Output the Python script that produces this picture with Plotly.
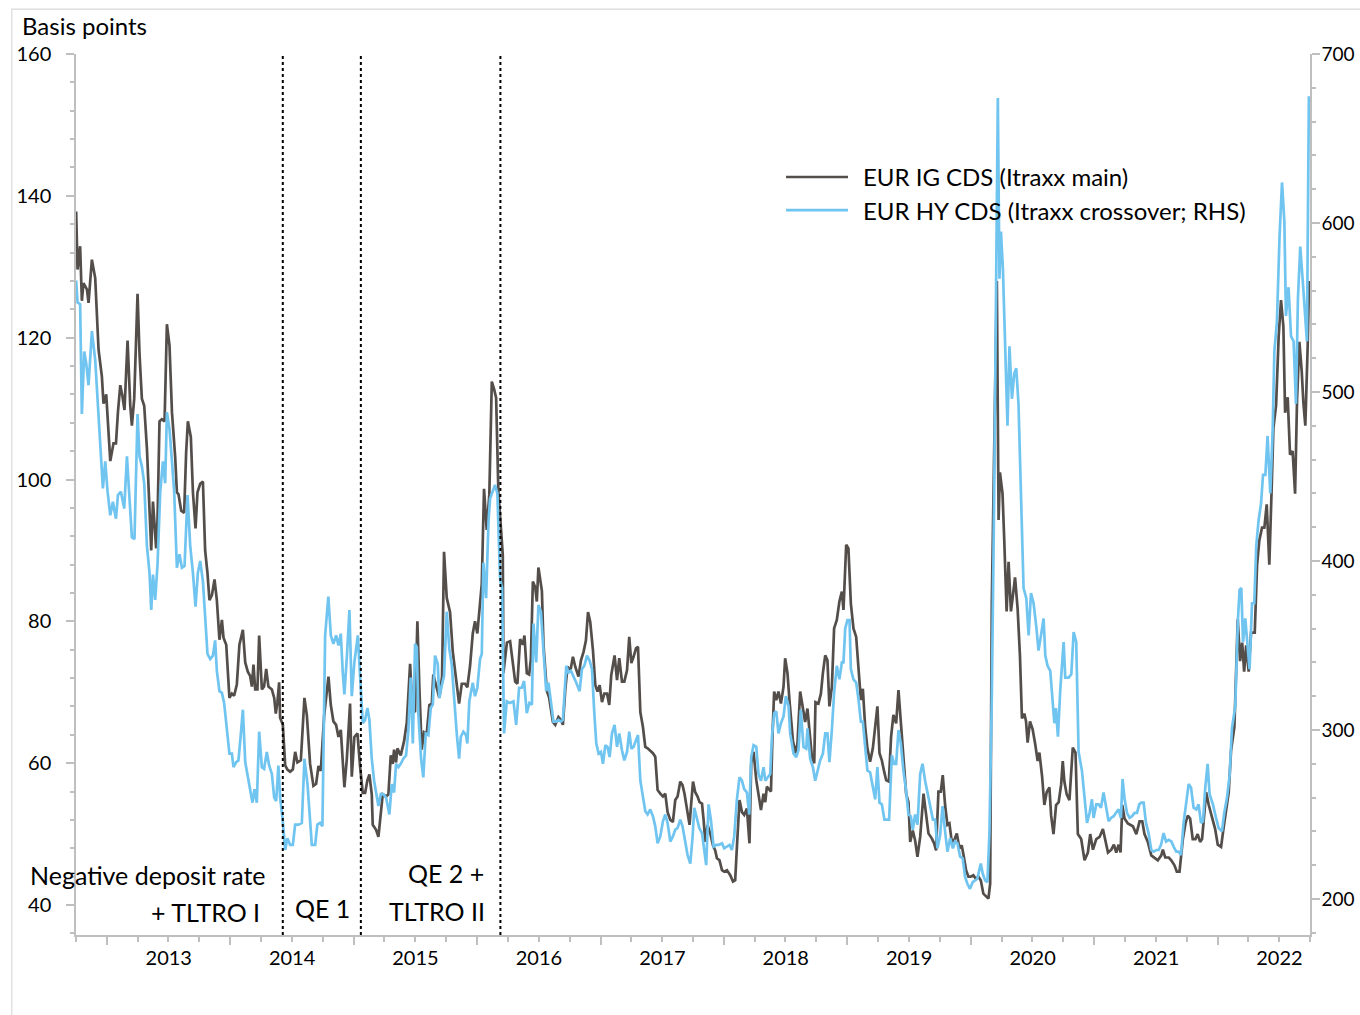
import pandas as pd
import plotly.graph_objects as go

# ---------------- data ----------------
# time given as decimal years
ig_time = [2012.750, 2012.761, 2012.782, 2012.796, 2012.809, 2012.837, 2012.850, 2012.877, 2012.904, 2012.931,
           2012.958, 2012.971, 2012.993, 2013.026, 2013.052, 2013.072, 2013.088, 2013.107, 2013.125, 2013.141,
           2013.166, 2013.188, 2013.201, 2013.220, 2013.247, 2013.263, 2013.282, 2013.301, 2013.323, 2013.344,
           2013.358, 2013.372, 2013.385, 2013.398, 2013.409, 2013.425, 2013.444, 2013.466, 2013.485, 2013.506,
           2013.526, 2013.552, 2013.566, 2013.579, 2013.601, 2013.625, 2013.641, 2013.655, 2013.679, 2013.696,
           2013.717, 2013.733, 2013.755, 2013.777, 2013.795, 2013.814, 2013.830, 2013.850, 2013.871, 2013.890,
           2013.911, 2013.931, 2013.944, 2013.966, 2013.992, 2014.012, 2014.030, 2014.052, 2014.073, 2014.101,
           2014.120, 2014.141, 2014.160, 2014.174, 2014.187, 2014.201, 2014.219, 2014.233, 2014.255, 2014.273,
           2014.290, 2014.308, 2014.336, 2014.355, 2014.368, 2014.381, 2014.395, 2014.403, 2014.425, 2014.444,
           2014.462, 2014.484, 2014.506, 2014.525, 2014.543, 2014.571, 2014.600, 2014.620, 2014.646, 2014.673,
           2014.695, 2014.714, 2014.733, 2014.760, 2014.795, 2014.814, 2014.835, 2014.857, 2014.876, 2014.895,
           2014.924, 2014.944, 2014.970, 2014.984, 2015.005, 2015.030, 2015.051, 2015.073, 2015.092, 2015.111,
           2015.127, 2015.146, 2015.154, 2015.181, 2015.200, 2015.219, 2015.235, 2015.262, 2015.281, 2015.300,
           2015.316, 2015.327, 2015.343, 2015.354, 2015.381, 2015.408, 2015.430, 2015.457, 2015.475, 2015.497,
           2015.516, 2015.532, 2015.551, 2015.570, 2015.592, 2015.613, 2015.633, 2015.645, 2015.673, 2015.694,
           2015.716, 2015.732, 2015.754, 2015.781, 2015.803, 2015.821, 2015.835, 2015.854, 2015.876, 2015.902,
           2015.921, 2015.943, 2015.965, 2015.983, 2016.002, 2016.024, 2016.038, 2016.056, 2016.078, 2016.099,
           2016.119, 2016.137, 2016.154, 2016.172, 2016.192, 2016.208, 2016.213, 2016.241, 2016.267, 2016.286,
           2016.308, 2016.326, 2016.348, 2016.370, 2016.383, 2016.402, 2016.421, 2016.435, 2016.451, 2016.470,
           2016.483, 2016.496, 2016.524, 2016.537, 2016.564, 2016.583, 2016.613, 2016.632, 2016.658, 2016.678,
           2016.694, 2016.713, 2016.731, 2016.753, 2016.775, 2016.794, 2016.820, 2016.840, 2016.861, 2016.880,
           2016.897, 2016.915, 2016.937, 2016.956, 2016.974, 2016.991, 2017.010, 2017.029, 2017.051, 2017.069,
           2017.085, 2017.112, 2017.132, 2017.150, 2017.172, 2017.191, 2017.213, 2017.231, 2017.248, 2017.266,
           2017.286, 2017.302, 2017.321, 2017.342, 2017.361, 2017.380, 2017.401, 2017.423, 2017.442, 2017.461,
           2017.483, 2017.504, 2017.523, 2017.542, 2017.564, 2017.585, 2017.604, 2017.623, 2017.645, 2017.663,
           2017.679, 2017.699, 2017.720, 2017.731, 2017.748, 2017.766, 2017.785, 2017.801, 2017.821, 2017.834,
           2017.847, 2017.866, 2017.888, 2017.910, 2017.928, 2017.942, 2017.963, 2017.983, 2018.001, 2018.023,
           2018.050, 2018.072, 2018.090, 2018.104, 2018.125, 2018.145, 2018.163, 2018.185, 2018.206, 2018.220,
           2018.239, 2018.261, 2018.279, 2018.299, 2018.320, 2018.334, 2018.347, 2018.366, 2018.380, 2018.393,
           2018.406, 2018.423, 2018.441, 2018.461, 2018.482, 2018.495, 2018.514, 2018.530, 2018.558, 2018.577,
           2018.595, 2018.617, 2018.639, 2018.657, 2018.676, 2018.692, 2018.712, 2018.731, 2018.741, 2018.765,
           2018.785, 2018.801, 2018.820, 2018.838, 2018.854, 2018.874, 2018.892, 2018.914, 2018.935, 2018.955,
           2018.968, 2018.990, 2019.008, 2019.028, 2019.049, 2019.071, 2019.090, 2019.109, 2019.125, 2019.144,
           2019.162, 2019.184, 2019.206, 2019.225, 2019.243, 2019.260, 2019.279, 2019.298, 2019.314, 2019.336,
           2019.354, 2019.373, 2019.395, 2019.414, 2019.433, 2019.454, 2019.476, 2019.495, 2019.509, 2019.530,
           2019.549, 2019.568, 2019.590, 2019.617, 2019.638, 2019.657, 2019.684, 2019.703, 2019.719, 2019.738,
           2019.757, 2019.773, 2019.792, 2019.811, 2019.827, 2019.846, 2019.865, 2019.887, 2019.908, 2019.927,
           2019.946, 2019.962, 2019.981, 2020.000, 2020.021, 2020.041, 2020.062, 2020.081, 2020.102, 2020.124,
           2020.143, 2020.157, 2020.170, 2020.211, 2020.225, 2020.236, 2020.257, 2020.271, 2020.290, 2020.306,
           2020.325, 2020.338, 2020.358, 2020.379, 2020.398, 2020.414, 2020.433, 2020.447, 2020.460, 2020.479,
           2020.500, 2020.522, 2020.541, 2020.555, 2020.577, 2020.595, 2020.614, 2020.636, 2020.650, 2020.669,
           2020.690, 2020.711, 2020.731, 2020.744, 2020.757, 2020.776, 2020.798, 2020.825, 2020.847, 2020.866,
           2020.893, 2020.920, 2020.947, 2020.966, 2020.988, 2021.015, 2021.042, 2021.069, 2021.091, 2021.110,
           2021.137, 2021.158, 2021.177, 2021.196, 2021.212, 2021.226, 2021.244, 2021.271, 2021.312, 2021.340,
           2021.366, 2021.388, 2021.406, 2021.433, 2021.461, 2021.487, 2021.514, 2021.542, 2021.555, 2021.574,
           2021.603, 2021.623, 2021.649, 2021.668, 2021.690, 2021.717, 2021.738, 2021.757, 2021.776, 2021.797,
           2021.819, 2021.837, 2021.857, 2021.873, 2021.906, 2021.927, 2021.954, 2021.979, 2022.000, 2022.027,
           2022.046, 2022.068, 2022.089, 2022.108, 2022.135, 2022.162, 2022.181, 2022.198, 2022.214, 2022.230,
           2022.251, 2022.270, 2022.300, 2022.319, 2022.337, 2022.359, 2022.378, 2022.397, 2022.418, 2022.437,
           2022.451, 2022.473, 2022.494, 2022.513, 2022.532, 2022.546, 2022.567, 2022.586, 2022.607, 2022.627,
           2022.643, 2022.662, 2022.681, 2022.694, 2022.710, 2022.729, 2022.740]

ig_bp = [137.8, 129.6, 132.9, 125.2, 127.7, 126.8, 124.9, 131.0, 128.4, 118.3,
         114.5, 110.7, 112.0, 102.6, 105.1, 105.1, 109.5, 113.3, 111.7, 109.8,
         119.6, 110.4, 107.6, 111.4, 126.2, 117.7, 111.4, 110.4, 104.4, 96.9,
         90.0, 96.9, 93.1, 90.3, 94.4, 108.2, 108.5, 108.2, 121.9, 118.9,
         109.5, 103.2, 98.2, 97.9, 95.6, 95.3, 103.8, 108.2, 106.0, 98.2,
         93.1, 98.2, 99.4, 99.7, 90.0, 86.8, 83.0, 83.7, 85.9, 83.0,
         77.4, 80.2, 77.7, 76.7, 69.2, 69.8, 69.5, 71.1, 76.7, 78.8,
         74.2, 72.9, 72.3, 70.8, 73.9, 70.4, 70.4, 78.0, 70.4, 70.8,
         73.3, 70.8, 70.4, 69.2, 67.0, 68.6, 71.4, 66.4, 65.4, 59.7,
         59.1, 58.8, 59.1, 61.6, 60.1, 60.4, 69.2, 66.7, 59.9, 56.8,
         57.1, 59.6, 58.9, 66.7, 72.2, 68.2, 65.9, 65.4, 63.7, 64.7,
         56.6, 60.6, 68.4, 58.1, 63.7, 64.2, 59.6, 55.8, 55.8, 57.6,
         58.4, 55.6, 51.3, 50.6, 49.6, 53.1, 55.6, 55.3, 55.6, 61.1,
         59.9, 61.9, 60.1, 62.1, 61.1, 63.1, 65.7, 74.0, 67.7, 67.2,
         80.0, 70.7, 61.9, 64.4, 64.2, 68.2, 68.4, 72.5, 70.7, 69.2,
         72.2, 89.8, 83.3, 81.3, 75.7, 73.2, 70.7, 68.4, 71.2, 71.2,
         70.7, 73.7, 78.3, 80.0, 78.3, 82.0, 85.3, 98.7, 92.9, 97.9,
         113.8, 112.8, 111.5, 98.4, 92.9, 89.3, 72.7, 77.0, 77.2, 74.5,
         71.5, 71.2, 77.5, 76.7, 78.0, 72.7, 72.5, 74.7, 85.6, 84.8,
         82.8, 87.6, 84.3, 76.7, 70.2, 69.2, 65.8, 65.4, 66.5, 66.1,
         65.4, 70.3, 73.6, 72.9, 75.0, 73.6, 72.2, 74.5, 75.7, 77.3,
         81.3, 79.9, 75.9, 71.0, 70.1, 71.0, 68.6, 69.8, 69.8, 68.2,
         72.4, 75.2, 71.7, 74.8, 71.5, 71.5, 73.1, 77.8, 74.1, 75.0,
         76.2, 76.4, 67.2, 65.1, 62.3, 62.1, 61.8, 61.4, 60.9, 56.2,
         55.7, 55.3, 55.7, 53.1, 52.0, 51.7, 54.8, 55.3, 57.4, 56.9,
         55.7, 53.4, 51.3, 53.8, 57.4, 55.9, 55.3, 54.5, 54.3, 52.0,
         48.9, 51.3, 50.1, 48.4, 47.7, 46.6, 46.3, 44.9, 44.7, 44.9,
         44.2, 43.3, 43.5, 48.2, 54.8, 53.1, 52.7, 53.6, 48.7, 60.0,
         61.6, 57.6, 55.3, 53.4, 55.7, 54.5, 56.7, 56.2, 56.0, 64.2,
         70.1, 68.9, 70.1, 68.4, 70.8, 74.8, 72.7, 68.9, 63.2, 61.4,
         62.8, 70.1, 68.0, 65.8, 67.7, 64.2, 60.9, 60.0, 68.6, 68.4,
         69.8, 72.7, 75.2, 74.5, 68.0, 70.8, 79.0, 80.2, 82.8, 84.2,
         81.6, 90.8, 90.3, 82.5, 79.0, 77.8, 72.7, 68.9, 70.5, 65.1,
         62.1, 60.2, 62.1, 65.1, 68.0, 61.4, 60.4, 58.8, 57.6, 57.4,
         63.7, 66.8, 65.6, 70.3, 65.6, 60.0, 55.7, 54.5, 48.9, 50.5,
         49.1, 46.8, 49.6, 55.7, 52.7, 50.1, 49.4, 48.7, 47.7, 56.0,
         56.0, 58.3, 54.1, 51.3, 51.5, 48.9, 49.1, 50.1, 48.0, 48.4,
         46.6, 44.9, 44.0, 44.0, 44.2, 43.7, 44.0, 43.5, 41.6, 41.2,
         40.9, 43.0, 82.5, 128.0, 94.3, 101.0, 98.0, 91.4, 81.4, 88.4,
         81.4, 83.2, 86.2, 81.8, 75.1, 66.3, 67.0, 65.9, 62.9, 65.9,
         64.8, 62.6, 60.3, 61.5, 58.1, 54.1, 55.9, 56.6, 52.6, 50.0,
         54.1, 54.5, 57.0, 60.3, 57.4, 55.6, 54.8, 62.2, 61.5, 50.0,
         49.3, 46.3, 47.4, 50.0, 47.8, 49.3, 49.6, 50.7, 48.9, 47.4,
         47.8, 48.5, 47.4, 48.5, 47.4, 54.1, 52.2, 51.5, 51.1, 50.0,
         51.8, 51.8, 50.0, 48.9, 47.0, 46.7, 46.3, 47.0, 47.8, 46.7,
         46.7, 46.3, 45.6, 44.7, 44.7, 49.3, 51.5, 52.6, 52.2, 49.3,
         49.3, 50.0, 48.9, 49.3, 55.9, 54.1, 52.2, 50.7, 48.5, 48.2,
         50.7, 53.3, 55.9, 61.8, 65.1, 80.3, 74.4, 77.0, 72.9, 76.6,
         72.9, 78.4, 78.4, 88.0, 91.4, 93.2, 93.2, 96.5, 88.0, 98.7,
         107.2, 110.5, 120.2, 125.3, 121.6, 109.4, 111.6, 103.5, 104.0, 98.0,
         111.3, 119.4, 115.2, 110.9, 107.6, 118.7, 128.0]

hy_time = [2012.750, 2012.761, 2012.782, 2012.796, 2012.815, 2012.831, 2012.850, 2012.877, 2012.904, 2012.931,
           2012.950, 2012.966, 2012.985, 2013.004, 2013.026, 2013.047, 2013.072, 2013.088, 2013.112, 2013.139,
           2013.161, 2013.182, 2013.201, 2013.222, 2013.247, 2013.263, 2013.282, 2013.301, 2013.323, 2013.344,
           2013.358, 2013.372, 2013.390, 2013.409, 2013.431, 2013.453, 2013.471, 2013.485, 2013.506, 2013.526,
           2013.544, 2013.566, 2013.587, 2013.607, 2013.628, 2013.652, 2013.674, 2013.696, 2013.717, 2013.736,
           2013.755, 2013.777, 2013.795, 2013.814, 2013.836, 2013.858, 2013.876, 2013.890, 2013.911, 2013.931,
           2013.949, 2013.971, 2013.992, 2014.012, 2014.025, 2014.047, 2014.065, 2014.085, 2014.101, 2014.120,
           2014.138, 2014.160, 2014.179, 2014.195, 2014.214, 2014.233, 2014.255, 2014.273, 2014.295, 2014.314,
           2014.336, 2014.355, 2014.371, 2014.389, 2014.403, 2014.422, 2014.444, 2014.462, 2014.484, 2014.506,
           2014.525, 2014.551, 2014.579, 2014.600, 2014.625, 2014.660, 2014.687, 2014.705, 2014.727, 2014.746,
           2014.768, 2014.794, 2014.814, 2014.835, 2014.857, 2014.876, 2014.895, 2014.911, 2014.924, 2014.944,
           2014.965, 2014.984, 2015.005, 2015.033, 2015.051, 2015.073, 2015.092, 2015.111, 2015.127, 2015.146,
           2015.165, 2015.181, 2015.200, 2015.219, 2015.240, 2015.262, 2015.289, 2015.308, 2015.327, 2015.343,
           2015.362, 2015.381, 2015.402, 2015.424, 2015.443, 2015.462, 2015.479, 2015.497, 2015.511, 2015.524,
           2015.546, 2015.564, 2015.584, 2015.605, 2015.624, 2015.641, 2015.659, 2015.681, 2015.694, 2015.713,
           2015.732, 2015.754, 2015.775, 2015.794, 2015.813, 2015.835, 2015.854, 2015.868, 2015.889, 2015.910,
           2015.921, 2015.937, 2015.965, 2015.983, 2016.002, 2016.024, 2016.038, 2016.051, 2016.073, 2016.092,
           2016.105, 2016.127, 2016.145, 2016.164, 2016.186, 2016.202, 2016.218, 2016.240, 2016.267, 2016.294,
           2016.316, 2016.340, 2016.362, 2016.380, 2016.402, 2016.423, 2016.443, 2016.456, 2016.478, 2016.496,
           2016.516, 2016.537, 2016.559, 2016.577, 2016.618, 2016.640, 2016.658, 2016.678, 2016.694, 2016.721,
           2016.739, 2016.759, 2016.780, 2016.802, 2016.829, 2016.848, 2016.867, 2016.889, 2016.910, 2016.929,
           2016.948, 2016.964, 2016.983, 2017.002, 2017.018, 2017.037, 2017.055, 2017.072, 2017.091, 2017.112,
           2017.132, 2017.150, 2017.172, 2017.191, 2017.213, 2017.231, 2017.248, 2017.266, 2017.286, 2017.302,
           2017.321, 2017.342, 2017.361, 2017.380, 2017.401, 2017.423, 2017.442, 2017.461, 2017.483, 2017.504,
           2017.523, 2017.542, 2017.564, 2017.585, 2017.604, 2017.623, 2017.645, 2017.663, 2017.685, 2017.704,
           2017.726, 2017.745, 2017.758, 2017.780, 2017.799, 2017.821, 2017.839, 2017.855, 2017.874, 2017.893,
           2017.915, 2017.936, 2017.955, 2017.983, 2018.001, 2018.023, 2018.044, 2018.063, 2018.082, 2018.104,
           2018.125, 2018.145, 2018.163, 2018.185, 2018.204, 2018.220, 2018.239, 2018.261, 2018.279, 2018.299,
           2018.320, 2018.334, 2018.352, 2018.374, 2018.388, 2018.406, 2018.423, 2018.441, 2018.461, 2018.482,
           2018.501, 2018.523, 2018.536, 2018.563, 2018.585, 2018.603, 2018.622, 2018.644, 2018.666, 2018.676,
           2018.698, 2018.720, 2018.739, 2018.757, 2018.779, 2018.801, 2018.820, 2018.838, 2018.854, 2018.874,
           2018.892, 2018.914, 2018.935, 2018.955, 2018.968, 2018.982, 2019.000, 2019.017, 2019.028, 2019.049,
           2019.071, 2019.090, 2019.109, 2019.125, 2019.144, 2019.162, 2019.184, 2019.206, 2019.225, 2019.243,
           2019.260, 2019.279, 2019.300, 2019.319, 2019.338, 2019.360, 2019.379, 2019.395, 2019.414, 2019.433,
           2019.454, 2019.476, 2019.495, 2019.514, 2019.530, 2019.549, 2019.568, 2019.590, 2019.609, 2019.630,
           2019.649, 2019.671, 2019.693, 2019.711, 2019.730, 2019.752, 2019.771, 2019.792, 2019.811, 2019.833,
           2019.855, 2019.873, 2019.892, 2019.914, 2019.935, 2019.954, 2019.973, 2019.994, 2020.016, 2020.035,
           2020.053, 2020.081, 2020.097, 2020.116, 2020.135, 2020.151, 2020.170, 2020.189, 2020.219, 2020.232,
           2020.244, 2020.260, 2020.279, 2020.297, 2020.313, 2020.333, 2020.352, 2020.368, 2020.386, 2020.406,
           2020.427, 2020.449, 2020.468, 2020.487, 2020.508, 2020.530, 2020.548, 2020.568, 2020.589, 2020.603,
           2020.621, 2020.643, 2020.657, 2020.676, 2020.689, 2020.705, 2020.724, 2020.751, 2020.764, 2020.791,
           2020.813, 2020.832, 2020.853, 2020.872, 2020.899, 2020.918, 2020.940, 2020.961, 2020.980, 2020.993,
           2021.015, 2021.034, 2021.053, 2021.074, 2021.096, 2021.115, 2021.134, 2021.156, 2021.175, 2021.196,
           2021.215, 2021.228, 2021.245, 2021.264, 2021.285, 2021.305, 2021.326, 2021.345, 2021.364, 2021.380,
           2021.399, 2021.418, 2021.439, 2021.461, 2021.480, 2021.502, 2021.521, 2021.540, 2021.561, 2021.581,
           2021.602, 2021.624, 2021.642, 2021.664, 2021.683, 2021.702, 2021.723, 2021.745, 2021.764, 2021.783,
           2021.804, 2021.826, 2021.845, 2021.864, 2021.880, 2021.899, 2021.918, 2021.934, 2021.961, 2021.986,
           2022.007, 2022.034, 2022.053, 2022.075, 2022.096, 2022.115, 2022.142, 2022.164, 2022.177, 2022.191,
           2022.205, 2022.223, 2022.242, 2022.258, 2022.278, 2022.296, 2022.312, 2022.331, 2022.351, 2022.367,
           2022.386, 2022.404, 2022.426, 2022.445, 2022.459, 2022.480, 2022.501, 2022.521, 2022.540, 2022.553,
           2022.574, 2022.594, 2022.615, 2022.634, 2022.650, 2022.669, 2022.688, 2022.704, 2022.723, 2022.739]

hy_bp = [566, 553, 552, 487, 524, 517, 504, 536, 519, 487,
         467, 443, 459, 441, 427, 435, 425, 439, 441, 431,
         462, 433, 414, 413, 487, 462, 456, 446, 409, 393,
         371, 392, 377, 398, 441, 459, 446, 488, 478, 459,
         441, 396, 404, 396, 397, 439, 409, 393, 373, 393,
         400, 388, 369, 345, 342, 344, 353, 335, 323, 322,
         316, 301, 286, 286, 278, 281, 282, 298, 312, 281,
         274, 265, 257, 265, 257, 299, 278, 277, 287, 279,
         274, 260, 258, 279, 260, 248, 229, 236, 232, 232,
         244, 244, 245, 283, 268, 232, 232, 244, 245, 243,
         356, 379, 356, 351, 356, 350, 357, 334, 321, 343,
         371, 320, 340, 356, 329, 304, 306, 313, 306, 283,
         270, 262, 255, 262, 262, 260, 250, 268, 263, 280,
         278, 280, 283, 285, 300, 331, 292, 351, 349, 309,
         283, 272, 298, 297, 313, 315, 344, 339, 319, 326,
         332, 370, 348, 339, 317, 298, 283, 296, 299, 297,
         292, 317, 328, 320, 325, 342, 345, 399, 378, 423,
         437, 442, 445, 440, 389, 384, 298, 317, 316, 317,
         303, 325, 325, 329, 310, 316, 315, 363, 340, 374,
         370, 347, 323, 328, 305, 305, 306, 305, 306, 338,
         334, 335, 332, 328, 323, 336, 338, 344, 341, 336,
         310, 292, 286, 287, 280, 291, 290, 284, 298, 303,
         290, 298, 288, 282, 287, 299, 289, 290, 294, 297,
         270, 259, 252, 250, 253, 249, 243, 233, 237, 246,
         250, 245, 234, 237, 241, 242, 247, 243, 235, 226,
         221, 237, 254, 247, 242, 239, 229, 220, 256, 247,
         231, 232, 232, 233, 230, 231, 232, 229, 237, 259,
         272, 270, 265, 263, 250, 284, 291, 290, 274, 270,
         278, 270, 272, 274, 296, 310, 311, 298, 304, 308,
         320, 314, 298, 286, 284, 288, 312, 290, 289, 301,
         283, 278, 270, 275, 282, 286, 298, 298, 281, 300,
         322, 338, 330, 340, 340, 360, 365, 365, 336, 330,
         328, 318, 305, 305, 291, 276, 275, 266, 259, 278,
         257, 256, 247, 247, 247, 285, 280, 280, 300, 292,
         276, 264, 250, 249, 241, 250, 244, 274, 280, 270,
         263, 255, 247, 247, 230, 238, 255, 240, 228, 236,
         230, 234, 233, 225, 224, 213, 209, 206, 210, 211,
         212, 221, 215, 211, 210, 239, 318, 436, 674, 567,
         595, 573, 530, 480, 527, 496, 511, 514, 493, 437,
         384, 378, 356, 381, 375, 361, 347, 356, 366, 344,
         338, 335, 322, 304, 313, 296, 324, 352, 331, 331,
         333, 358, 352, 287, 276, 263, 245, 251, 259, 248,
         256, 256, 254, 263, 253, 246, 248, 249, 251, 253,
         248, 271, 259, 251, 248, 249, 251, 251, 256, 257,
         257, 245, 239, 229, 228, 229, 229, 232, 239, 234,
         235, 234, 231, 228, 228, 226, 245, 257, 268, 266,
         254, 253, 256, 245, 246, 266, 280, 262, 256, 248,
         242, 240, 251, 260, 273, 301, 314, 366, 383, 384,
         352, 366, 350, 336, 375, 375, 409, 424, 434, 451,
         451, 474, 440, 477, 524, 542, 592, 624, 601, 545,
         562, 533, 530, 493, 555, 586, 567, 548, 530, 675]

left_ticks = [40, 60, 80, 100, 120, 140, 160]
right_ticks = [200, 300, 400, 500, 600, 700]
event_dates = ["2014-06-05", "2015-01-22", "2016-03-10"]

ig_name = "EUR IG CDS (Itraxx main)"
hy_name = "EUR HY CDS (Itraxx crossover; RHS)"


def to_date(t):
    y = int(t)
    start = pd.Timestamp(year=y, month=1, day=1)
    ndays = (pd.Timestamp(year=y + 1, month=1, day=1) - start).days
    return start + pd.Timedelta(days=(t - y) * ndays)


ig_dates = [to_date(t) for t in ig_time]
hy_dates = [to_date(t) for t in hy_time]

IG_COLOR = "#544E4B"
HY_COLOR = "#70C4F0"
AXIS_COLOR = "#BFBFBF"
FONT = "Lato"
TEXT_SIZE = 25
LEGEND_SIZE = 24

fig = go.Figure()
fig.add_trace(go.Scatter(x=ig_dates, y=ig_bp, mode="lines", name=ig_name,
                         line=dict(color=IG_COLOR, width=2.7), yaxis="y", showlegend=False))
fig.add_trace(go.Scatter(x=hy_dates, y=hy_bp, mode="lines", name=hy_name,
                         line=dict(color=HY_COLOR, width=2.7), yaxis="y2", showlegend=False))

# plot area: x 76..1310 px, y 54..935 px
fig.update_layout(
    width=1360, height=1015, autosize=False,
    margin=dict(l=76, r=50, t=54, b=80, autoexpand=False),
    paper_bgcolor="white", plot_bgcolor="white",
    font=dict(family=FONT, size=20, color="black"),
    showlegend=False,
    xaxis=dict(
        type="date",
        range=["2012-10-01", "2022-10-01"],
        tick0="2013-01-01", dtick="M12", ticklabelmode="period", tickformat="%Y",
        ticks="outside", ticklen=8, tickwidth=1.5, tickcolor=AXIS_COLOR,
        minor=dict(dtick="M3", tick0="2013-01-01", ticks="outside", ticklen=5,
                   tickwidth=1.5, tickcolor=AXIS_COLOR, showgrid=False),
        showline=True, linecolor=AXIS_COLOR, linewidth=1.5,
        showgrid=False, zeroline=False, automargin=False,
        ticklabelstandoff=-4,
        tickfont=dict(size=20, color="black"),
    ),
    yaxis=dict(
        range=[35.77, 160],
        tickvals=left_ticks,
        ticks="outside", ticklen=8, tickwidth=1.5, tickcolor=AXIS_COLOR,
        minor=dict(dtick=4, tick0=40, ticks="outside", ticklen=4, tickwidth=1.5,
                   tickcolor=AXIS_COLOR, showgrid=False),
        showline=True, linecolor=AXIS_COLOR, linewidth=1.5,
        showgrid=False, zeroline=False, automargin=False,
        ticklabelstandoff=11,
        tickfont=dict(size=20, color="black"),
    ),
    yaxis2=dict(
        range=[178.7, 700], overlaying="y", side="right",
        tickvals=right_ticks,
        ticks="outside", ticklen=8, tickwidth=1.5, tickcolor=AXIS_COLOR,
        minor=dict(dtick=20, tick0=200, ticks="outside", ticklen=4, tickwidth=1.5,
                   tickcolor=AXIS_COLOR, showgrid=False),
        showline=True, linecolor=AXIS_COLOR, linewidth=1.5,
        showgrid=False, zeroline=False, automargin=False,
        ticklabelstandoff=-2,
        tickfont=dict(size=19, color="black"),
    ),
)

# outer frame of the chart
fig.add_shape(type="rect", xref="paper", yref="paper", x0=-0.052, x1=1.06, y0=-0.12, y1=1.051,
              line=dict(color="#D9D9D9", width=1.2), fillcolor="rgba(0,0,0,0)", layer="below")

# policy event lines
for d in event_dates:
    fig.add_shape(type="line", xref="x", yref="paper", x0=d, x1=d, y0=0, y1=0.998,
                  line=dict(color="black", width=2, dash="dot"))

# manual legend (long line samples as in the reference)
legend_items = [(ig_name, IG_COLOR, 0.8604), (hy_name, HY_COLOR, 0.8229)]
for name, color, yy in legend_items:
    fig.add_shape(type="line", xref="paper", yref="paper", x0=0.5754, x1=0.6256, y0=yy, y1=yy,
                  line=dict(color=color, width=2.7))
    fig.add_annotation(xref="paper", yref="paper", x=0.6361, y=yy, text=name, showarrow=False,
                       xanchor="left", yanchor="middle", font=dict(size=LEGEND_SIZE, color="black"))

# axis title (top-left)
fig.add_annotation(xref="paper", yref="paper", x=-0.0454, y=1.0318, text="Basis points",
                   showarrow=False, xanchor="left", yanchor="middle",
                   font=dict(size=24, color="black"))

# event texts
texts = [
    ("Negative deposit rate", -0.0389, 0.0681, "left"),
    ("+ TLTRO I", 0.1507, 0.0261, "right"),
    ("QE 1", 0.1994, 0.0306, "center"),
    ("QE 2 +", 0.3323, 0.0704, "right"),
    ("TLTRO II", 0.3331, 0.0272, "right"),
]
for txt, xx, yy, anc in texts:
    fig.add_annotation(xref="paper", yref="paper", x=xx, y=yy, text=txt, showarrow=False,
                       xanchor=anc, yanchor="middle", font=dict(size=TEXT_SIZE, color="black"))

post = """
document.documentElement.style.margin='0';
document.body.style.margin='0';
document.body.style.padding='0';
document.documentElement.style.overflow='hidden';
document.body.style.overflow='hidden';
var gd = document.getElementById('{plot_id}');
Plotly.relayout(gd, {width: 1360, height: 1015});
"""

fig.write_html("out.html", config={"responsive": False, "displayModeBar": False}, post_script=post)
